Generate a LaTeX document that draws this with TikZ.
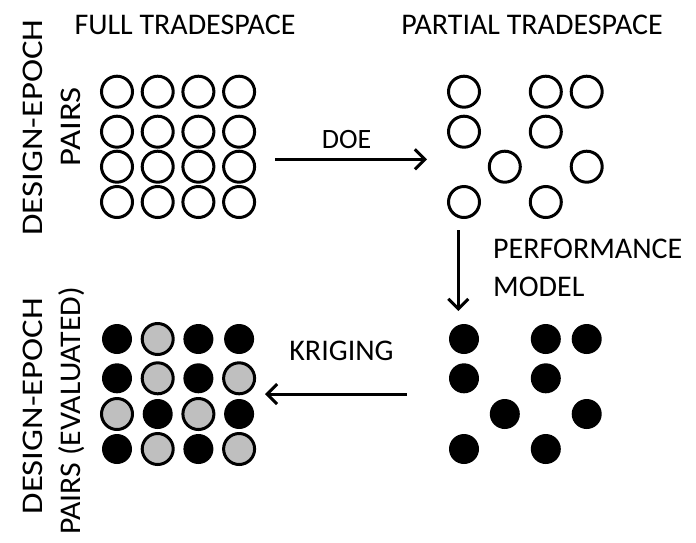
\documentclass[tikz,border=0pt]{standalone}
\usepackage{fontspec}
\setmainfont{Carlito}
\usetikzlibrary{arrows.meta}
\begin{document}
\begin{tikzpicture}[x=1pt,y=-1pt,
  ring/.style={circle,draw=black,line width=3pt,fill=white,minimum size=31pt,inner sep=0pt},
  bdot/.style={circle,fill=black,minimum size=30pt,inner sep=0pt},
  gdot/.style={circle,draw=black,line width=3pt,fill=gray!50,minimum size=31pt,inner sep=0pt},
  lbl/.style={font=\fontsize{30}{32}\selectfont,inner sep=0pt,anchor=base},
  vlbl/.style={lbl,rotate=90,xscale=1.16},
  flow/.style={line width=3pt,-{Straight Barb[length=10pt,width=20pt]}}]
\useasboundingbox (0,0) rectangle (696,542);
% column and row positions
\def\La{117}\def\Lb{157.7}\def\Lc{198.4}\def\Ld{239.1}
\def\Ra{464}\def\Rb{504.8}\def\Rc{545.8}\def\Rd{586.7}
\def\Ta{91.7}\def\Tb{131.7}\def\Tc{166.7}\def\Td{202}
\def\Ba{339}\def\Bb{378.3}\def\Bc{414}\def\Bd{449}
% titles
\node[lbl] (tfull) at (185,34.5) {FULL TRADESPACE};
\node[lbl] (tpart) at (532,34.5) {PARTIAL TRADESPACE};
\node[vlbl] (dep1) at (42,127.5) {DESIGN-EPOCH};
\node[vlbl] (pairs1) at (80,126.7) {PAIRS};
\node[vlbl] (dep2) at (42,406) {DESIGN-EPOCH};
\node[lbl,rotate=90,xscale=1.06] (pairs2) at (80,411) {PAIRS (EVALUATED)};
% full tradespace
\foreach \y [count=\r] in {\Ta,\Tb,\Tc,\Td}
  \foreach \x [count=\c] in {\La,\Lb,\Lc,\Ld}
    \node[ring] (f\r\c) at (\x,\y) {};
% partial tradespace
\node[ring] (p11) at (\Ra,\Ta) {};
\node[ring] (p13) at (\Rc,\Ta) {};
\node[ring] (p14) at (\Rd,\Ta) {};
\node[ring] (p21) at (\Ra,\Tb) {};
\node[ring] (p23) at (\Rc,\Tb) {};
\node[ring] (p32) at (\Rb,\Tc) {};
\node[ring] (p34) at (\Rd,\Tc) {};
\node[ring] (p41) at (\Ra,\Td) {};
\node[ring] (p43) at (\Rc,\Td) {};
% evaluated partial
\node[bdot] (e11) at (\Ra,\Ba) {};
\node[bdot] (e13) at (\Rc,\Ba) {};
\node[bdot] (e14) at (\Rd,\Ba) {};
\node[bdot] (e21) at (\Ra,\Bb) {};
\node[bdot] (e23) at (\Rc,\Bb) {};
\node[bdot] (e32) at (\Rb,\Bc) {};
\node[bdot] (e34) at (\Rd,\Bc) {};
\node[bdot] (e41) at (\Ra,\Bd) {};
\node[bdot] (e43) at (\Rc,\Bd) {};
% kriged full tradespace
\node[bdot] (k11) at (\La,\Ba) {};
\node[gdot] (k12) at (\Lb,\Ba) {};
\node[bdot] (k13) at (\Lc,\Ba) {};
\node[bdot] (k14) at (\Ld,\Ba) {};
\node[bdot] (k21) at (\La,\Bb) {};
\node[gdot] (k22) at (\Lb,\Bb) {};
\node[bdot] (k23) at (\Lc,\Bb) {};
\node[gdot] (k24) at (\Ld,\Bb) {};
\node[gdot] (k31) at (\La,\Bc) {};
\node[bdot] (k32) at (\Lb,\Bc) {};
\node[gdot] (k33) at (\Lc,\Bc) {};
\node[bdot] (k34) at (\Ld,\Bc) {};
\node[bdot] (k41) at (\La,\Bd) {};
\node[gdot] (k42) at (\Lb,\Bd) {};
\node[bdot] (k43) at (\Lc,\Bd) {};
\node[gdot] (k44) at (\Ld,\Bd) {};
% arrows
\coordinate (doeS) at (275,159.3);
\coordinate (doeE) at (427,159.3);
\coordinate (pmS) at (458.3,230);
\coordinate (pmE) at (458.3,311);
\coordinate (krS) at (406.7,394);
\coordinate (krE) at (265,394);
\draw[flow] (doeS) -- (doeE);
\draw[flow] (pmS) -- (pmE);
\draw[flow] (krS) -- (krE);
\node[lbl,font=\fontsize{28}{30}\selectfont] (doe) at (346.5,148.3) {DOE};
\node[lbl] (krig) at (341.5,360.7) {KRIGING};
\node[lbl,anchor=base west] (perf) at (493,258.3) {PERFORMANCE};
\node[lbl,anchor=base west] (model) at (493,296.7) {MODEL};
\end{tikzpicture}
\end{document}
